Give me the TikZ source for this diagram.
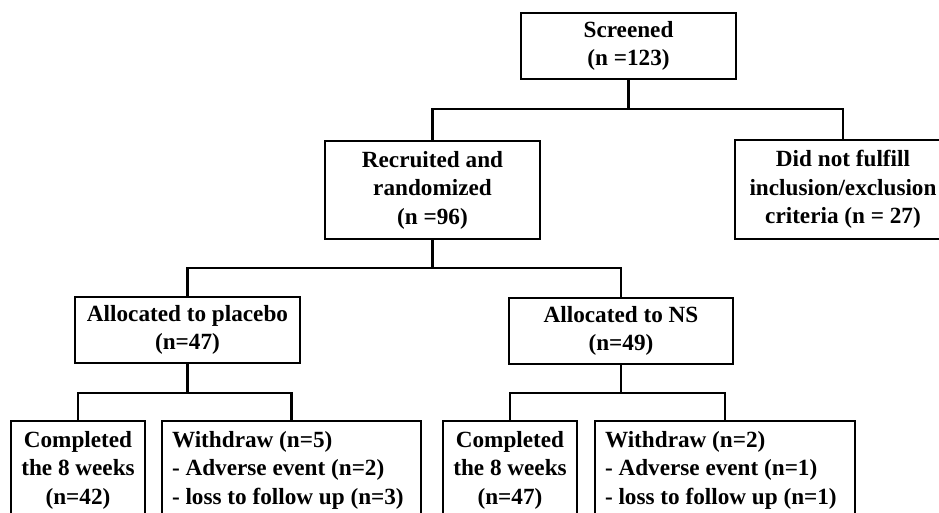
\documentclass[tikz,border=0pt]{standalone}
\usepackage{fontspec}
\setmainfont{Liberation Serif}
\begin{document}
\begin{tikzpicture}[x=1pt,y=-1pt,
  box/.style={draw,line width=2.3pt,rectangle,align=center,inner sep=0pt,
    font=\fontsize{23.2}{28.5}\selectfont\bfseries},
  lbox/.style={box,align=flush left},
  conn/.style={line width=2.3pt}]
\useasboundingbox (0,0) rectangle (939,513);
\clip (0,0) rectangle (939,513);
\fill[white] (0,0) rectangle (939,513);
\node[box,minimum width=215pt,minimum height=66pt] (scr) at (628.5,46) {Screened\\(n =123)};
\node[box,minimum width=215pt,minimum height=98pt] (rec) at (432.5,190) {Recruited and\\randomized\\(n =96)};
\node[box,minimum width=216pt,minimum height=99pt] (nf) at (843,189.5) {Did not fulfill\\inclusion/exclusion\\criteria (n = 27)};
\node[box,minimum width=225pt,minimum height=66pt] (pl) at (187.5,330) {Allocated to placebo\\(n=47)};
\node[box,minimum width=224pt,minimum height=66pt] (ns) at (621,331) {Allocated to NS\\(n=49)};
\node[box,minimum width=134pt,minimum height=98pt] (c1) at (78,470) {Completed\\the 8 weeks\\(n=42)};
\node[lbox,minimum width=259pt,minimum height=98pt,text width=239pt] (w1) at (291.5,470) {Withdraw (n=5)\\- Adverse event (n=2)\\- loss to follow up (n=3)};
\node[box,minimum width=134pt,minimum height=98pt] (c2) at (510,470) {Completed\\the 8 weeks\\(n=47)};
\node[lbox,minimum width=260pt,minimum height=98pt,text width=240pt] (w2) at (725,470) {Withdraw (n=2)\\- Adverse event (n=1)\\- loss to follow up (n=1)};
\coordinate (j1) at (628.5,109);
\coordinate (j2) at (432.5,268);
\coordinate (j3) at (187.5,393);
\coordinate (j4) at (621,393);
\draw[conn] (scr.south) -- (j1);
\draw[conn] (rec.north) |- (j1) -| (nf.north);
\draw[conn] (rec.south) -- (j2);
\draw[conn] (pl.north) |- (j2) -| (ns.north);
\draw[conn] (pl.south) -- (j3);
\draw[conn] (c1.north) |- (j3) -| (w1.north);
\draw[conn] (ns.south) -- (j4);
\draw[conn] (c2.north) |- (j4) -| (w2.north);
\end{tikzpicture}
\end{document}
